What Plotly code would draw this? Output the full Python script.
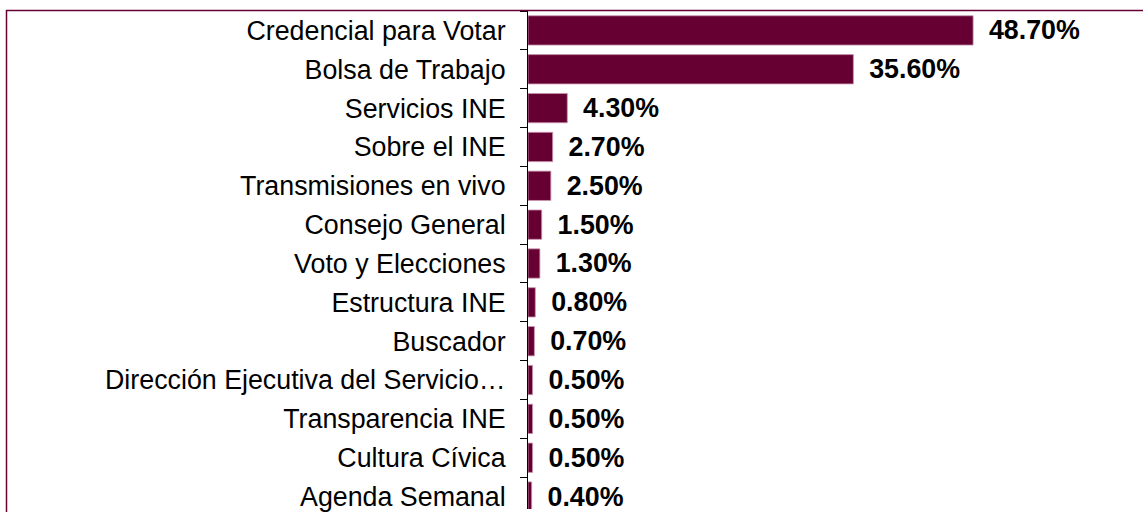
import plotly.graph_objects as go

categories = [
    "Credencial para Votar",
    "Bolsa de Trabajo",
    "Servicios INE",
    "Sobre el INE",
    "Transmisiones en vivo",
    "Consejo General",
    "Voto y Elecciones",
    "Estructura INE",
    "Buscador",
    "Dirección Ejecutiva del Servicio…",
    "Transparencia INE",
    "Cultura Cívica",
    "Agenda Semanal",
]
values = [48.7, 35.6, 4.3, 2.7, 2.5, 1.5, 1.3, 0.8, 0.7, 0.5, 0.5, 0.5, 0.4]

BAR_COLOR = "#660033"
W, H = 1143, 512
ML, MT = 528, 11
plot_w = W - ML
plot_h = H - MT
px_per_unit = 9.14
cat_px = 39.08
FS = 26.8

fig = go.Figure(
    go.Bar(
        x=values,
        y=categories,
        orientation="h",
        marker=dict(color=BAR_COLOR, line=dict(color="rgba(200,150,175,0.8)", width=1)),
        texttemplate="\u00a0\u2009%{x:.2f}%",
        textposition="outside",
        textfont=dict(family="Liberation Sans", size=FS, color="black", weight="bold"),
        constraintext="none",
        cliponaxis=False,
        hoverinfo="skip",
    )
)

n_vis = plot_h / cat_px
fig.update_layout(
    width=W,
    height=H,
    margin=dict(l=ML, r=0, t=MT, b=0, pad=0),
    paper_bgcolor="white",
    plot_bgcolor="white",
    bargap=0.245,
    showlegend=False,
    font=dict(family="Liberation Sans", color="black"),
    xaxis=dict(
        range=[0, plot_w / px_per_unit],
        visible=False,
        showgrid=False,
        zeroline=False,
    ),
    yaxis=dict(
        type="category",
        range=[-0.5 + n_vis, -0.5],
        showline=True,
        linecolor="black",
        linewidth=1,
        ticks="outside",
        tickson="boundaries",
        ticklen=7,
        tickcolor="black",
        tickwidth=1,
        showgrid=False,
        zeroline=False,
        tickfont=dict(family="Liberation Sans", size=FS, color="black"),
        ticklabelstandoff=16,
    ),
    shapes=[
        dict(
            type="rect",
            xref="paper",
            yref="paper",
            x0=(6.5 - ML) / plot_w,
            x1=1.5,
            y0=-0.5,
            y1=1 + 0.5 / plot_h,
            line=dict(color=BAR_COLOR, width=1.5),
            fillcolor="rgba(0,0,0,0)",
            layer="above",
        )
    ],
)

fig.write_html(
    "out.html",
    config={"displayModeBar": False, "staticPlot": True},
    post_script="document.body.style.margin='0';document.body.style.overflow='hidden';",
)
